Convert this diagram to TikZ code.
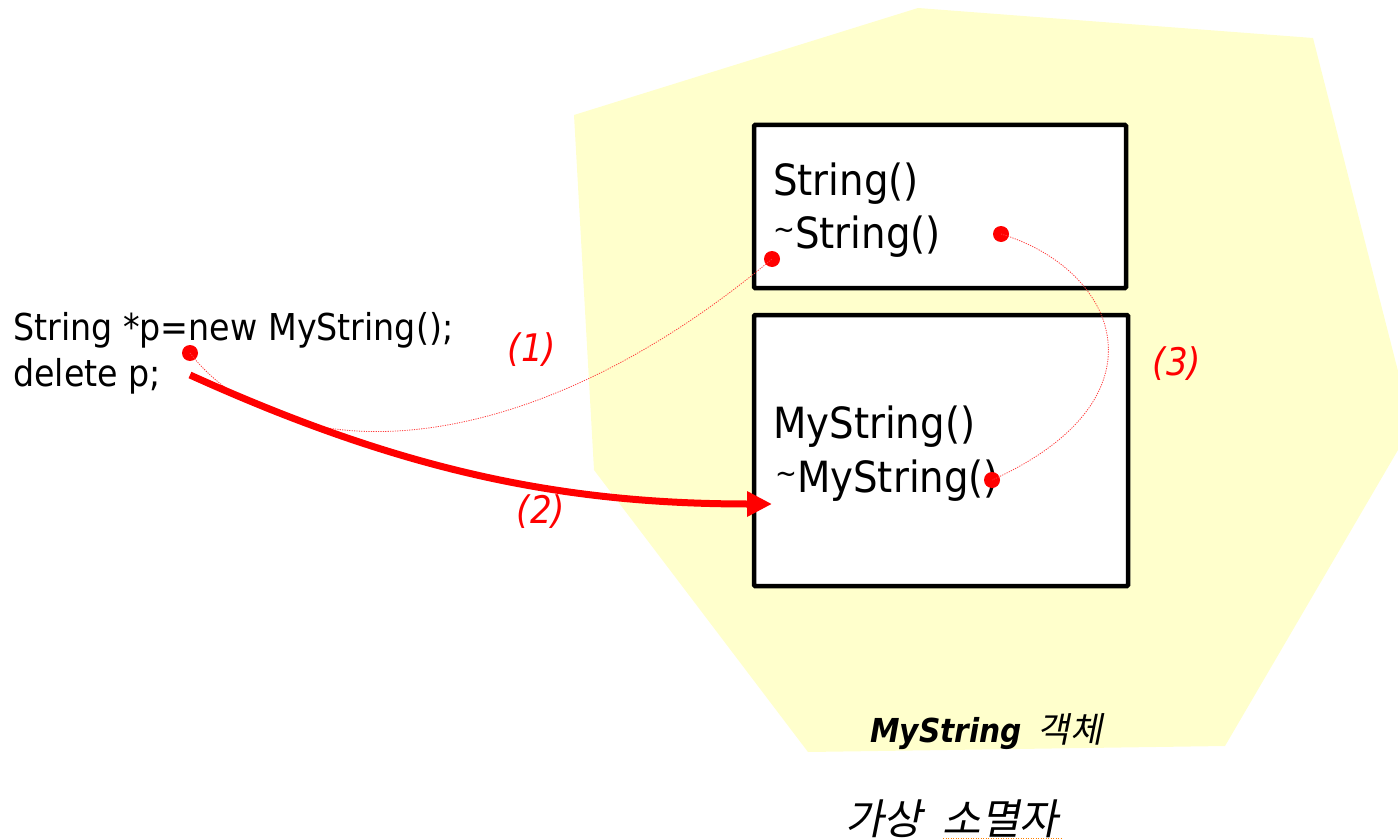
\documentclass[tikz,border=0pt]{standalone}
\usepackage{fontspec}
\setmainfont[FakeStretch=0.9]{DejaVu Sans}
\newfontfamily\krfont[FakeSlant=0.2]{Noto Sans CJK KR}
\usetikzlibrary{arrows.meta}
\definecolor{objyellow}{HTML}{FFFFCC}
\definecolor{pred}{HTML}{FF0000}
\newcommand{\smtilde}{{\fontsize{29}{29}\selectfont\raisebox{9pt}{\textasciitilde}}}
\tikzset{
  objbox/.style={draw=black, line width=4.5pt, fill=white, rounded corners=1pt, inner sep=0pt},
  codetxt/.style={anchor=base west, inner sep=0pt, font=\fontsize{37}{45}\selectfont},
  boxtxt/.style={anchor=base west, inner sep=0pt, font=\fontsize{43}{50}\selectfont},
  steplbl/.style={text=pred, inner sep=0pt, font=\fontsize{38}{44}\selectfont\itshape},
  reddot/.style={circle, fill=pred, minimum size=16pt, inner sep=0pt},
  dotline/.style={draw=pred!75, line width=0.8pt, dash pattern=on 1.2pt off 1.2pt},
  callline/.style={draw=pred, line width=7pt, -{Triangle[length=25pt,width=24pt]}}
}
\begin{document}
\begin{tikzpicture}[x=1pt,y=-1pt]
\useasboundingbox (0,0) rectangle (1398,840);
\begin{scope}
\clip (0,0) rectangle (1398,840);
\fill[objyellow] (574,115) -- (918,8) -- (1313,38) -- (1412,426) -- (1225,746) -- (808,752) -- (594,470) -- cycle;
\end{scope}

% boxes
\node[objbox, minimum width=372pt, minimum height=163pt] (base) at (940,206.5) {};
\node[objbox, minimum width=374pt, minimum height=271pt] (derived) at (941,450.5) {};

% box texts
\node[boxtxt] (ctor) at (773,195) {String()};
\node[boxtxt] (dtor) at (773,248) {\smtilde String()};
\node[boxtxt] (mctor) at (773,438) {MyString()};
\node[boxtxt] (mdtor) at (775,492) {\smtilde MyString()};

% code
\node[codetxt] (code1) at (13,340) {String *p=new MyString();};
\node[codetxt] (code2) at (13,386) {delete p;};

% dots
\node[reddot] (d0) at (190,353) {};
\node[reddot] (d1) at (772,259) {};
\node[reddot] (d2) at (1001,234) {};
\node[reddot] (d3) at (992,480) {};

% dotted connectors
\path[dotline] (d0.center) .. controls (280,470) and (520,470) .. (d1.center);
\path[dotline] (d2.center) .. controls (1120,270) and (1170,400) .. (d3.center);

% thick call arrow
\coordinate (cstart) at (190,375);
\coordinate (cend) at (772,504);
\draw[callline] (cstart) .. controls (400,470) and (560,504) .. (cend);

% labels
\node[steplbl] (l1) at (532,350) {(1)};
\node[steplbl] (l2) at (541,512) {(2)};
\node[steplbl] (l3) at (1177,364) {(3)};

% captions
\node[anchor=base west, inner sep=0pt] (objcap) at (870,742)
  {{\fontsize{33}{40}\selectfont\bfseries\itshape MyString}\hspace{16pt}{\krfont\fontsize{35}{40}\selectfont 객체}};
\node[anchor=base west, inner sep=0pt, font=\krfont\fontsize{42}{44}\selectfont] (title) at (845,834) {가상\hspace{20pt}소멸자};
\draw[draw=orange, line width=1pt, dash pattern=on 1pt off 1.5pt] (943,838.5) -- (1063,838.5);
\end{tikzpicture}
\end{document}
